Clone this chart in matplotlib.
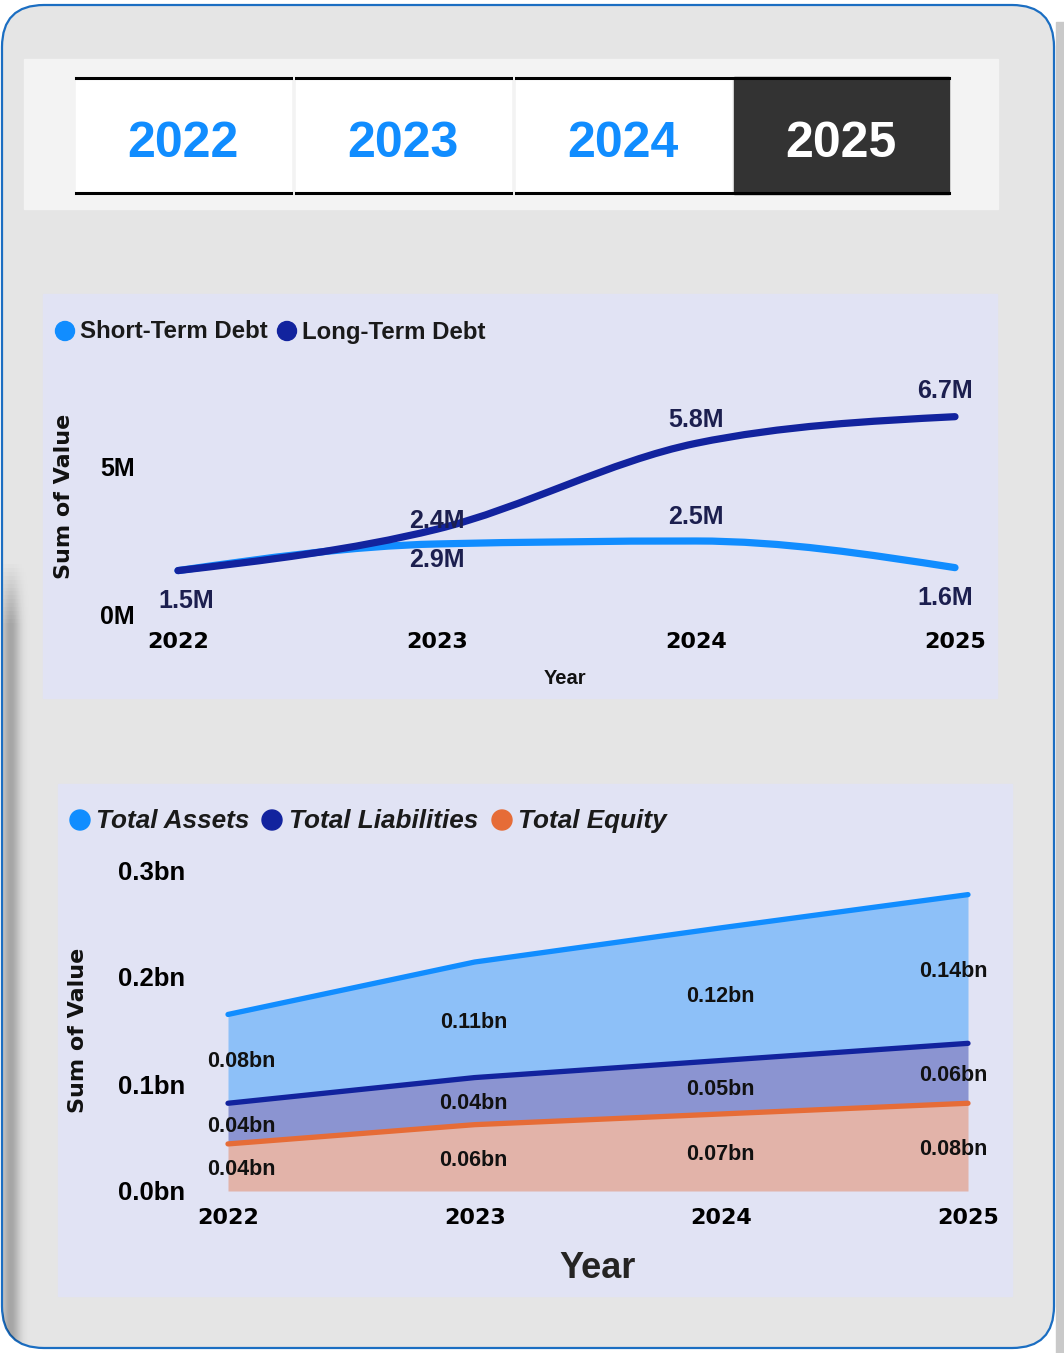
import numpy as np
import matplotlib
matplotlib.use("Agg")
import matplotlib.pyplot as plt
from matplotlib.patches import FancyBboxPatch, Rectangle, PathPatch, Circle
from matplotlib.path import Path

# slicer
years = [2022, 2023, 2024, 2025]
selected_year = 2025

# debt chart (millions)
short_term = [1.5, 2.4, 2.5, 1.6]
long_term = [1.5, 2.9, 5.8, 6.7]
debt_labels_short = ["1.5M", "2.4M", "2.5M", "1.6M"]
debt_labels_long = [None, "2.9M", "5.8M", "6.7M"]

# balance sheet chart (billions, stacked)
equity = [0.044, 0.062, 0.072, 0.082]
liabilities = [0.038, 0.044, 0.050, 0.056]
assets = [0.083, 0.108, 0.124, 0.139]

W, H = 1064, 1353
fig = plt.figure(figsize=(W / 100, H / 100), dpi=100)
fig.patch.set_facecolor("white")

BLUE = "#118dff"
NAVY = "#12239e"
ORANGE = "#e66c37"
PANEL = "#e1e3f4"
BOLD = "DejaVu Sans"
ARIAL = "Liberation Sans"


def px_axes(x0, y0, x1, y1):
    return fig.add_axes([x0 / W, 1 - y1 / H, (x1 - x0) / W, (y1 - y0) / H])


# background layer in pixel units
bg = fig.add_axes([0, 0, 1, 1])
bg.set_xlim(0, W)
bg.set_ylim(H, 0)
bg.axis("off")

bg.add_patch(Rectangle((1056, 22), 8, H, color="#c9c9c9", zorder=0))
frame = FancyBboxPatch((2, 5), 1052, 1343, boxstyle="round,pad=0,rounding_size=42",
                       facecolor="#e5e5e5", edgecolor="#1b6ec2", lw=1.6, zorder=1)
bg.add_patch(frame)

# left shadow
gx = np.linspace(0, 1, 30)
gy = np.linspace(0, 1, 200)
prof = np.exp(-((gx - 0.25) / 0.32) ** 2)
fade = np.clip(gy / 0.08, 0, 1)
alpha = fade[:, None] * prof[None, :] * 0.28
img = np.zeros((200, 30, 4))
img[..., 3] = alpha
im = bg.imshow(img, extent=(3, 33, 1346, 560), aspect="auto", zorder=2)
im.set_clip_path(frame)

# slicer
bg.add_patch(Rectangle((24, 59), 974, 150, color="#f3f3f3", zorder=3))
btn_x = [76, 296, 516, 734]
for x0, yr in zip(btn_x, years):
    sel = yr == selected_year
    bg.add_patch(Rectangle((x0, 77), 215, 117, color="#333333" if sel else "white", zorder=4))
    bg.plot([x0, x0 + 215], [78, 78], color="black", lw=2.2, zorder=5)
    bg.plot([x0, x0 + 215], [193, 193], color="black", lw=2.2, zorder=5)
    bg.text(x0 + 107, 139, str(yr), ha="center", va="center_baseline", fontsize=36,
            fontweight="bold", family=ARIAL, color="white" if sel else BLUE, zorder=6)

# panels
bg.add_patch(Rectangle((43, 294), 954, 404, color=PANEL, zorder=3))
bg.add_patch(Rectangle((58, 784), 954, 512, color=PANEL, zorder=3))

# legend 1
for cx, tx, c, lab in [(65, 80, BLUE, "Short-Term Debt"), (287, 302, NAVY, "Long-Term Debt")]:
    bg.add_patch(Circle((cx, 331), 9.5, color=c, zorder=6))
    bg.text(tx, 332, lab, ha="left", va="center", fontsize=17.3, fontweight="bold",
            family=ARIAL, color="#1a1a1a", zorder=6)

# legend 2
for cx, tx, c, lab in [(80, 96, BLUE, "Total Assets"), (272, 289, NAVY, "Total Liabilities"),
                       (502, 518, ORANGE, "Total Equity")]:
    bg.add_patch(Circle((cx, 820), 10, color=c, zorder=6))
    bg.text(tx, 821, lab, ha="left", va="center", fontsize=18.8, fontweight="bold",
            style="italic", family=ARIAL, color="#1a1a1a", zorder=6)


def monotone_path(xs, ys):
    xs = np.asarray(xs, float)
    ys = np.asarray(ys, float)
    h = np.diff(xs)
    s = np.diff(ys) / h
    n = len(xs)
    t = np.zeros(n)
    for i in range(1, n - 1):
        p = (s[i - 1] * h[i] + s[i] * h[i - 1]) / (h[i - 1] + h[i])
        sg = (1 if s[i - 1] >= 0 else -1) + (1 if s[i] >= 0 else -1)
        t[i] = sg * min(abs(s[i - 1]), abs(s[i]), 0.5 * abs(p))
    t[0] = (3 * s[0] - t[1]) / 2
    t[-1] = (3 * s[-1] - t[-2]) / 2
    verts = [(xs[0], ys[0])]
    codes = [Path.MOVETO]
    for i in range(n - 1):
        d = h[i] / 3
        verts += [(xs[i] + d, ys[i] + d * t[i]), (xs[i + 1] - d, ys[i + 1] - d * t[i + 1]),
                  (xs[i + 1], ys[i + 1])]
        codes += [Path.CURVE4] * 3
    return Path(verts, codes)


# chart 1: debt lines
ax1 = px_axes(142, 380, 990, 615)
ax1.set_facecolor("none")
ax1.set_xlim(2022 - 36 / 259, 2025 + 35 / 259)
ax1.set_ylim(0, 235 / 29.6)
for sp in ax1.spines.values():
    sp.set_visible(False)
for vals, c in [(short_term, BLUE), (long_term, NAVY)]:
    ax1.add_patch(PathPatch(monotone_path(years, vals), fill=False, edgecolor=c, lw=5.2,
                            capstyle="round", joinstyle="round", clip_on=False))
ax1.set_xticks(years)
ax1.set_xticklabels([str(y) for y in years], fontsize=16, fontweight="bold", family=BOLD)
ax1.set_yticks([0, 5])
ax1.set_yticklabels(["0M", "5M"], fontsize=18, fontweight="bold", family=ARIAL)
ax1.tick_params(axis="x", length=0, pad=12)
ax1.tick_params(axis="y", length=0, pad=5)

short_off = [(8, -28), (0, 25), (0, 26), (-10, -28)]
long_off = [(0, 0), (0, -28), (0, 26), (-10, 28)]
for x, v, lab, off in zip(years, short_term, debt_labels_short, short_off):
    ax1.annotate(lab, (x, v), xytext=off, textcoords="offset pixels", ha="center",
                 va="center_baseline", fontsize=18, fontweight="bold", color="#1c1f4f",
                 family=ARIAL, annotation_clip=False)
for x, v, lab, off in zip(years, long_term, debt_labels_long, long_off):
    if lab is None:
        continue
    ax1.annotate(lab, (x, v), xytext=off, textcoords="offset pixels", ha="center",
                 va="center_baseline", fontsize=18, fontweight="bold", color="#1c1f4f",
                 family=ARIAL, annotation_clip=False)

bg.text(565, 678, "Year", ha="center", va="center", fontsize=14.5, fontweight="bold",
        family=ARIAL, color="#111111", zorder=6)
bg.text(64, 496, "Sum of Value", ha="center", va="center", rotation=90, fontsize=16,
        fontweight="bold", family=BOLD, color="#111111", zorder=6)

# chart 2: stacked areas
ax2 = px_axes(192, 870, 1000, 1191)
ax2.set_facecolor("none")
ax2.set_xlim(2022 - 36 / 246.7, 2025 + 32 / 246.7)
ax2.set_ylim(0, 0.3)
for sp in ax2.spines.values():
    sp.set_visible(False)

eq = np.array(equity)
li = eq + np.array(liabilities)
at = li + np.array(assets)
zero = np.zeros(len(years))
ax2.fill_between(years, zero, eq, color="#e2b3a9", lw=0)
ax2.fill_between(years, eq, li, color="#8b94d1", lw=0)
ax2.fill_between(years, li, at, color="#8dc0f8", lw=0)
ax2.plot(years, at, color=BLUE, lw=3.8, solid_capstyle="round", clip_on=False)
ax2.plot(years, li, color=NAVY, lw=3.8, solid_capstyle="round", clip_on=False)
ax2.plot(years, eq, color=ORANGE, lw=3.8, solid_capstyle="round", clip_on=False)

ax2.set_xticks(years)
ax2.set_xticklabels([str(y) for y in years], fontsize=16, fontweight="bold", family=BOLD)
ax2.set_yticks([0, 0.1, 0.2, 0.3])
ax2.set_yticklabels(["0.0bn", "0.1bn", "0.2bn", "0.3bn"], fontsize=18.5, fontweight="bold",
                    family=ARIAL)
ax2.tick_params(axis="x", length=0, pad=12)
ax2.tick_params(axis="y", length=0, pad=5)

x_off = [13, -1, -1, -15]
for i, x in enumerate(years):
    for lo, hi, v in [(0, eq[i], equity[i]), (eq[i], li[i], liabilities[i]),
                      (li[i], at[i], assets[i])]:
        ax2.annotate(f"{v:.2f}bn", (x, (lo + hi) / 2), xytext=(x_off[i], 0),
                     textcoords="offset pixels", ha="center", va="center_baseline",
                     fontsize=15.5, fontweight="bold", family=ARIAL, color="#111111",
                     annotation_clip=False)

bg.text(598, 1265, "Year", ha="center", va="center_baseline", fontsize=26, fontweight="bold",
        family=ARIAL, color="#252423", zorder=6)
bg.text(78, 1030, "Sum of Value", ha="center", va="center", rotation=90, fontsize=16,
        fontweight="bold", family=BOLD, color="#111111", zorder=6)

fig.savefig("out.png", dpi=100, facecolor=fig.get_facecolor())
